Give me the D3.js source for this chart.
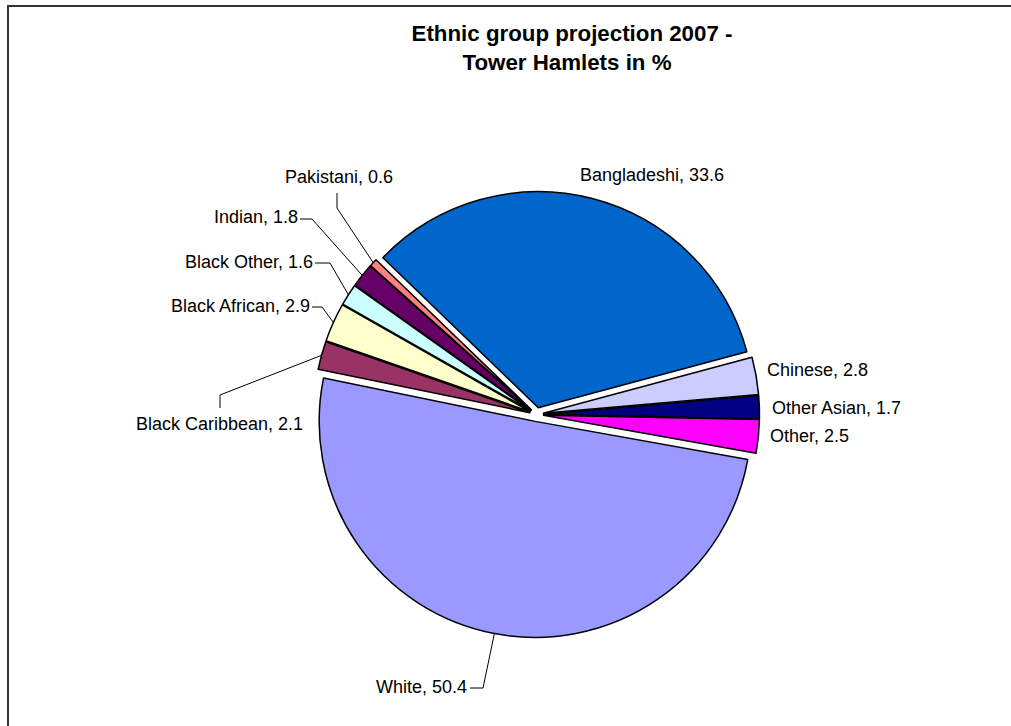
<!DOCTYPE html>
<html>
<head>
<meta charset="utf-8">
<script src="https://cdn.jsdelivr.net/npm/d3@7"></script>
<style>
  html, body { margin: 0; padding: 0; background: #fff; }
  svg { display: block; }
  text { font-family: "Liberation Sans", Arial, sans-serif; fill: #000; }
</style>
</head>
<body>
<svg id="chart" width="1011" height="726"></svg>
<script>
// Ethnic group projection 2007, Tower Hamlets (percent of population)
const categories = ["Bangladeshi", "Chinese", "Other Asian", "Other", "White",
                    "Black Caribbean", "Black African", "Black Other", "Indian", "Pakistani"];
const values = [33.6, 2.8, 1.7, 2.5, 50.4, 2.1, 2.9, 1.6, 1.8, 0.6];
const titleLines = ["Ethnic group projection 2007 -", "Tower Hamlets in %"];

// Slice fills, in category order
const sliceColors = ["#0066CC", "#CCCCFF", "#000080", "#FF00FF", "#9999FF",
                     "#993366", "#FFFFCC", "#CCFFFF", "#660066", "#FF8080"];

// Label placement: text anchor point, alignment, and optional leader elbow points
const labelLayout = {
  "Bangladeshi":     { x: 580, y: 181, anchor: "start" },
  "Chinese":         { x: 767, y: 376, anchor: "start" },
  "Other Asian":     { x: 772, y: 414, anchor: "start" },
  "Other":           { x: 770, y: 442, anchor: "start" },
  "White":           { x: 467, y: 693, anchor: "end",   leader: [[470, 688], [483, 688]] },
  "Black Caribbean": { x: 303, y: 430, anchor: "end",   leader: [[220, 408], [220, 395]] },
  "Black African":   { x: 310, y: 312, anchor: "end",   leader: [[312, 307], [322, 307]] },
  "Black Other":     { x: 313, y: 268, anchor: "end",   leader: [[315, 263], [330, 263]] },
  "Indian":          { x: 298, y: 223, anchor: "end",   leader: [[300, 219], [312, 219]] },
  "Pakistani":       { x: 285, y: 183, anchor: "start", leader: [[337, 193], [337, 208]] }
};

const svg = d3.select("#chart");
const W = 1011, H = 726;

// Chart frame
svg.append("rect")
  .attr("x", 8).attr("y", 6)
  .attr("width", W + 20).attr("height", H + 20)
  .attr("fill", "#fff")
  .attr("stroke", "#333").attr("stroke-width", 2);

// Title
svg.append("g").selectAll("text")
  .data(titleLines)
  .join("text")
  .attr("x", (d, i) => i === 0 ? 572 : 567)
  .attr("y", (d, i) => 41 + i * 28.5)
  .attr("text-anchor", "middle")
  .attr("font-size", 22.3)
  .attr("font-weight", "bold")
  .text(d => d);

// Pie
const cx = 536.5, cy = 414.5;
const radius = 216;
const explode = 7;
const start = -46 * Math.PI / 180;

const pie = d3.pie().sort(null).value(d => d)
  .startAngle(start).endAngle(start + 2 * Math.PI);
const arcs = pie(values);
const arc = d3.arc().innerRadius(0).outerRadius(radius);

const pieG = svg.append("g").attr("transform", `translate(${cx},${cy})`);

function offsetOf(a) {
  const mid = (a.startAngle + a.endAngle) / 2;
  return [Math.sin(mid) * explode, -Math.cos(mid) * explode];
}

pieG.selectAll("path")
  .data(arcs)
  .join("path")
  .attr("transform", d => { const o = offsetOf(d); return `translate(${o[0]},${o[1]})`; })
  .attr("d", arc)
  .attr("fill", (d, i) => sliceColors[i])
  .attr("stroke", "#000")
  .attr("stroke-width", 1.5)
  .attr("stroke-linejoin", "round");

// Leader lines from labels to the middle of each slice's rim
const fmt = d3.format(".1f");
const leaderG = svg.append("g");
arcs.forEach((a, i) => {
  const lay = labelLayout[categories[i]];
  if (!lay.leader) return;
  const mid = (a.startAngle + a.endAngle) / 2;
  const rr = radius + explode;
  const rim = [cx + Math.sin(mid) * rr, cy - Math.cos(mid) * rr];
  const pts = lay.leader.concat([rim]);
  leaderG.append("path")
    .attr("d", d3.line()(pts))
    .attr("fill", "none")
    .attr("stroke", "#000")
    .attr("stroke-width", 1);
});

// Category labels
svg.append("g").selectAll("text")
  .data(arcs)
  .join("text")
  .attr("x", (d, i) => labelLayout[categories[i]].x)
  .attr("y", (d, i) => labelLayout[categories[i]].y)
  .attr("text-anchor", (d, i) => labelLayout[categories[i]].anchor)
  .attr("font-size", 18)
  .text((d, i) => `${categories[i]}, ${fmt(values[i])}`);
</script>
</body>
</html>
